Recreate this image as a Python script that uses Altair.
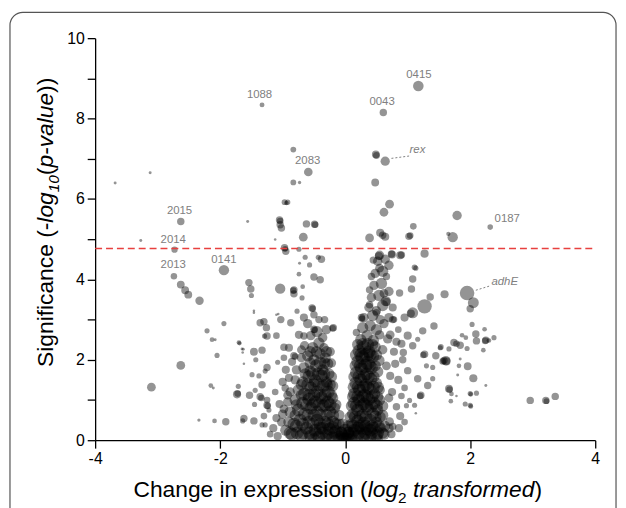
import altair as alt
import pandas as pd

# ---------------- data ----------------
# labelled genes: log2 fold change, -log10 p, abundance (bubble size)
lab_name = ["1088", "0415", "0043", "rex", "2083", "2015", "2014", "2013", "0141", "0187", "adhE"]
lab_fc = [-1.33, 1.17, 0.61, 0.64, -0.59, -2.63, -2.73, -2.74, -1.94, 2.32, 1.95]
lab_p = [8.34, 8.81, 8.15, 6.94, 6.67, 5.44, 4.74, 4.08, 4.23, 5.30, 3.66]
lab_ab = [1.1, 4.6, 2.5, 3.9, 3.4, 2.5, 1.8, 1.9, 4.5, 1.4, 7.2]

# label text anchors (data units)
txt_name = ["1088", "0415", "0043", "2083", "2015", "2014", "2013", "0141", "0187"]
txt_fc = [-1.37, 1.18, 0.59, -0.60, -2.65, -2.75, -2.75, -1.94, 2.39]
txt_p = [8.52, 9.00, 8.34, 6.87, 5.62, 4.91, 4.28, 4.42, 5.43]
txt_align = ["center"] * 8 + ["left"]
ital_name = ["rex", "adhE"]
ital_fc = [1.03, 2.34]
ital_p = [7.14, 3.87]
lead_fc = [0.74, 2.09]
lead_p = [7.01, 3.73]
lead_fc2 = [1.03, 2.32]
lead_p2 = [7.07, 3.84]

threshold = [4.77]

# scattered genes above the threshold
upper = [(-3.68, 6.40, 0.4), (-3.12, 6.65, 0.4), (-3.27, 4.97, 0.4),
         (-0.83, 7.23, 1.5), (-0.83, 6.41, 1.5), (-0.73, 6.41, 0.5),
         (-0.97, 5.92, 1.5), (-0.92, 5.92, 1.3), (-0.94, 5.90, 1.0), (-1.56, 5.44, 0.4),
         (-1.05, 5.48, 2.5), (-1.04, 5.45, 2.0), (-1.04, 5.36, 2.5), (-1.02, 5.28, 2.5),
         (-0.62, 5.38, 2.5), (-0.49, 5.37, 2.5), (-0.48, 5.36, 2.0), (-0.67, 5.05, 3.5),
         (-0.97, 4.79, 2.5), (-0.95, 4.70, 2.5), (-0.96, 4.76, 1.5), (-0.74, 4.75, 1.2),
         (-1.12, 4.99, 0.3), (0.49, 7.11, 2.8), (0.50, 7.08, 2.2), (0.48, 6.41, 2.8),
         (0.71, 5.87, 3.5), (0.62, 5.67, 3.5), (0.39, 5.03, 3.5), (0.56, 5.16, 3.0),
         (0.60, 5.10, 2.5), (0.64, 5.06, 3.0), (1.09, 5.32, 2.0), (1.02, 5.07, 2.5),
         (1.04, 5.09, 2.0), (1.65, 5.13, 0.8), (1.72, 5.05, 4.5), (1.79, 5.59, 4.0)]

# scattered genes, middle band, right side
mid_right = [(1.27, 4.64, 3.0), (0.88, 4.60, 3.0), (0.75, 4.62, 2.8), (0.55, 4.60, 4.0),
             (0.54, 4.58, 3.0), (0.45, 4.48, 2.5), (1.11, 4.30, 1.5), (1.13, 4.28, 1.2),
             (1.08, 4.01, 2.5), (1.06, 3.76, 2.5), (0.87, 3.66, 2.5), (1.59, 3.63, 3.0),
             (1.36, 3.56, 2.5), (2.05, 3.42, 4.8), (2.00, 3.27, 2.5), (1.27, 3.33, 7.0),
             (1.08, 3.17, 4.8), (1.05, 3.15, 3.0), (0.76, 3.00, 2.5), (0.78, 3.00, 2.0),
             (1.42, 2.84, 2.5), (0.18, 2.68, 2.5), (0.26, 3.05, 2.5), (0.27, 3.02, 2.0),
             (0.50, 3.17, 2.5), (0.39, 3.37, 2.5), (0.39, 3.74, 2.5), (0.42, 4.07, 2.5),
             (0.66, 4.07, 2.5), (0.55, 4.28, 3.5), (0.65, 3.46, 4.5), (0.66, 3.44, 3.0),
             (0.74, 4.63, 2.5), (0.90, 4.61, 2.5), (1.24, 2.72, 2.5), (1.16, 2.51, 1.2),
             (1.08, 2.35, 2.5), (1.27, 2.14, 2.5), (1.25, 2.12, 2.0), (0.93, 2.18, 2.5),
             (1.45, 2.10, 2.5), (1.58, 1.98, 2.5), (1.56, 1.96, 2.0), (1.30, 1.85, 1.2),
             (1.40, 1.81, 1.2), (1.00, 1.73, 2.5), (1.16, 1.53, 2.5), (1.40, 1.53, 1.2),
             (1.32, 1.36, 2.5), (1.21, 1.12, 2.5), (1.20, 1.10, 2.0), (1.03, 0.99, 1.2),
             (1.11, 0.87, 1.2), (0.98, 0.86, 1.2), (1.13, 0.67, 0.3), (0.71, 0.46, 3.5),
             (0.76, 0.34, 2.5), (0.82, 0.83, 2.5), (0.75, 1.20, 3.0), (0.85, 1.50, 3.0),
             (0.80, 1.90, 3.0), (0.90, 2.40, 3.0), (0.78, 2.20, 3.0), (0.72, 1.60, 3.0),
             (0.95, 1.30, 2.0), (0.88, 0.60, 3.0), (0.90, 1.10, 2.0), (1.00, 2.60, 3.0),
             (0.85, 2.75, 2.0), (0.72, 2.62, 3.5), (0.82, 2.45, 3.0), (0.70, 1.05, 3.5),
             (0.66, 1.85, 3.5), (0.74, 0.15, 3.0), (0.86, 0.30, 3.0), (0.95, 0.45, 2.0),
             (0.62, 3.65, 3.5), (0.76, 3.30, 3.0), (0.95, 3.05, 3.0), (0.92, 2.00, 2.5)]

# scattered genes far right
far_right = [(2.03, 2.88, 1.2), (2.23, 2.76, 1.0), (2.09, 2.64, 2.5), (2.10, 2.47, 2.5),
             (2.25, 2.49, 2.5), (2.24, 2.47, 2.0), (2.30, 2.48, 1.0), (2.38, 2.55, 1.2),
             (2.21, 2.24, 1.0), (1.87, 2.61, 1.0), (1.93, 2.55, 1.0), (1.74, 2.43, 2.5),
             (1.78, 2.40, 2.0), (1.84, 2.36, 2.5), (1.95, 2.28, 1.2), (1.66, 2.27, 1.2),
             (1.53, 2.32, 1.5), (1.52, 2.30, 1.2), (1.61, 1.98, 4.0), (1.62, 1.96, 3.0),
             (1.84, 2.02, 0.4), (1.82, 1.85, 1.0), (1.80, 1.62, 0.4), (1.96, 1.84, 2.8),
             (2.05, 1.54, 3.0), (2.25, 1.36, 0.4), (1.66, 1.28, 2.8), (1.67, 1.26, 2.0),
             (1.70, 1.15, 1.0), (1.69, 0.97, 1.0), (2.00, 1.16, 1.2), (2.01, 1.14, 1.0),
             (2.10, 1.17, 1.2), (1.92, 0.90, 1.2), (2.00, 0.87, 1.2), (2.01, 0.84, 1.0),
             (1.78, 1.10, 0.3), (2.96, 0.99, 2.5), (3.21, 0.99, 2.5), (3.22, 0.97, 1.5),
             (3.36, 1.09, 2.5)]

# scattered genes, left side
left_side = [(-1.54, 3.92, 2.5), (-1.51, 3.76, 2.5), (-1.50, 3.60, 1.2),
             (-2.63, 3.87, 2.8), (-2.56, 3.73, 2.8), (-2.51, 3.62, 2.8), (-2.33, 3.47, 3.2),
             (-1.04, 3.77, 4.5), (-0.82, 3.74, 2.5), (-0.83, 3.72, 2.0), (-0.82, 3.64, 2.5),
             (-0.74, 4.13, 1.0), (-0.68, 3.82, 1.0), (-0.57, 4.36, 1.2), (-0.64, 4.55, 1.2),
             (-0.73, 4.40, 0.4), (-0.43, 4.55, 1.2), (-0.38, 4.50, 2.5), (-0.50, 4.06, 2.5),
             (-0.40, 3.99, 2.5), (-0.69, 3.54, 1.2), (-0.53, 3.29, 2.5), (-0.52, 3.27, 2.0),
             (-0.50, 3.12, 2.5), (-0.77, 3.21, 1.2), (-1.03, 3.00, 2.5), (-1.10, 3.12, 0.3),
             (-1.07, 3.14, 0.3), (-0.87, 2.92, 2.5), (-0.42, 3.00, 2.5), (-0.33, 3.00, 2.5),
             (-1.46, 3.17, 0.3), (-1.46, 3.22, 0.3), (-1.36, 2.92, 2.5), (-1.30, 2.95, 2.5),
             (-1.94, 2.90, 1.2), (-2.21, 2.72, 1.2), (-2.13, 2.50, 1.0), (-2.08, 2.50, 0.4),
             (-2.05, 2.11, 1.2), (-2.63, 1.86, 3.5), (-3.10, 1.32, 3.5), (-2.15, 1.36, 1.0),
             (-2.11, 1.30, 0.4), (-2.34, 0.50, 0.5), (-2.09, 0.48, 1.0), (-1.91, 0.46, 2.5),
             (-1.73, 1.14, 3.0), (-1.72, 1.16, 2.0), (-1.71, 1.34, 1.2), (-1.70, 2.43, 1.0),
             (-1.69, 2.41, 0.8), (-1.65, 2.27, 0.4), (-1.63, 2.26, 0.4), (-1.64, 2.18, 0.3),
             (-1.62, 1.90, 0.3), (-1.46, 2.20, 2.8), (-1.33, 2.24, 2.5), (-1.43, 2.00, 1.2),
             (-1.25, 1.81, 2.5), (-1.28, 1.72, 1.2), (-1.26, 2.80, 2.5), (-1.25, 2.59, 2.5),
             (-1.29, 2.59, 1.2), (-1.49, 1.63, 1.2), (-1.38, 1.60, 1.2), (-1.53, 1.12, 2.5),
             (-1.44, 1.24, 1.2), (-1.33, 1.38, 2.5), (-1.36, 1.08, 2.5), (-1.34, 1.05, 2.0),
             (-1.25, 0.87, 2.5), (-1.24, 0.85, 2.0), (-1.45, 0.89, 1.2), (-1.62, 0.54, 2.5),
             (-1.64, 0.48, 1.2), (-1.46, 0.48, 2.5), (-1.33, 0.38, 1.2), (-1.28, 0.38, 1.2),
             (-1.22, 0.75, 1.2), (-0.66, 2.59, 2.5), (-0.50, 2.76, 2.5), (-0.49, 2.74, 2.0),
             (-0.19, 2.80, 2.5), (-0.20, 2.78, 2.0), (-0.98, 2.31, 2.5), (-0.82, 2.10, 2.5),
             (-0.80, 2.08, 2.0), (-1.08, 1.94, 1.2), (-1.15, 0.30, 3.0), (-1.10, 0.55, 3.0),
             (-1.05, 0.90, 3.0), (-1.12, 1.20, 2.0), (-1.00, 1.45, 3.0), (-0.95, 1.75, 3.0),
             (-1.20, 0.15, 2.0), (-1.30, 0.60, 2.0), (-1.25, 1.00, 2.0), (-0.98, 2.05, 2.0),
             (-0.90, 2.30, 3.0), (-1.10, 2.60, 2.0), (-0.92, 1.12, 3.5), (-0.98, 0.78, 3.5),
             (-1.02, 0.45, 3.5), (-0.90, 1.55, 3.0), (-0.85, 1.95, 3.0), (-0.74, 2.62, 3.0),
             (-0.70, 2.25, 3.5), (-1.08, 0.10, 3.0), (-0.96, 1.30, 2.5), (-0.66, 3.05, 3.0)]

# dense core, left arm
core_left = [(-0.95, 0.25, 5), (-0.85, 0.15, 6), (-0.78, 0.35, 6), (-0.70, 0.12, 6), (-0.62, 0.30, 6),
             (-0.55, 0.10, 6), (-0.48, 0.25, 6), (-0.42, 0.08, 6), (-0.36, 0.30, 6), (-0.30, 0.12, 6),
             (-0.25, 0.28, 6), (-0.20, 0.06, 6), (-0.15, 0.22, 6), (-0.10, 0.08, 6), (-0.06, 0.20, 5),
             (-0.02, 0.05, 5), (-0.90, 0.45, 5), (-0.72, 0.50, 6), (-0.58, 0.45, 6), (-0.45, 0.50, 6),
             (-0.33, 0.45, 6), (-0.20, 0.45, 6), (-0.10, 0.40, 5), (-1.00, 0.65, 4), (-0.88, 0.70, 5),
             (-0.75, 0.75, 6), (-0.65, 0.65, 6), (-0.55, 0.80, 6), (-0.45, 0.70, 6), (-0.35, 0.85, 6),
             (-0.25, 0.70, 6), (-0.17, 0.80, 5), (-0.10, 0.62, 5), (-0.92, 0.95, 4), (-0.80, 1.00, 5),
             (-0.68, 0.92, 6), (-0.58, 1.02, 6), (-0.48, 0.95, 6), (-0.38, 1.05, 6), (-0.28, 0.95, 6),
             (-0.20, 1.05, 5), (-0.88, 1.20, 4), (-0.75, 1.25, 5), (-0.65, 1.15, 6), (-0.55, 1.30, 6),
             (-0.45, 1.20, 6), (-0.35, 1.35, 6), (-0.27, 1.20, 6), (-0.20, 1.35, 5), (-0.80, 1.50, 4),
             (-0.68, 1.45, 5), (-0.58, 1.58, 6), (-0.48, 1.48, 6), (-0.38, 1.60, 6), (-0.30, 1.45, 5),
             (-0.22, 1.58, 5), (-0.78, 1.75, 4), (-0.66, 1.80, 5), (-0.56, 1.72, 5), (-0.46, 1.85, 6),
             (-0.36, 1.75, 5), (-0.28, 1.90, 5), (-0.70, 2.05, 4), (-0.60, 2.10, 5), (-0.50, 2.00, 5),
             (-0.40, 2.15, 5), (-0.32, 2.05, 5), (-0.24, 2.20, 4), (-0.65, 2.35, 4), (-0.52, 2.30, 5),
             (-0.42, 2.42, 5), (-0.34, 2.30, 4), (-0.55, 2.60, 4), (-0.45, 2.70, 5), (-0.36, 2.55, 4),
             (-0.30, 2.75, 4), (-0.60, 2.90, 4)]

core_left_b = [(-0.88, 0.18, 6), (-0.77, 0.18, 6), (-0.67, 0.18, 6), (-0.57, 0.18, 6), (-0.47, 0.18, 6),
               (-0.37, 0.18, 6), (-0.27, 0.18, 6), (-0.17, 0.18, 6), (-0.07, 0.18, 6),
               (-0.82, 0.40, 6), (-0.68, 0.40, 6), (-0.52, 0.40, 6), (-0.40, 0.40, 6), (-0.28, 0.40, 6),
               (-0.16, 0.40, 6), (-0.04, 0.40, 5), (-0.80, 0.62, 5), (-0.60, 0.62, 6), (-0.50, 0.62, 6),
               (-0.40, 0.62, 6), (-0.30, 0.62, 6), (-0.20, 0.62, 6), (-0.78, 0.88, 5), (-0.62, 0.88, 6),
               (-0.52, 0.88, 6), (-0.42, 0.88, 6), (-0.32, 0.88, 6), (-0.24, 0.88, 6), (-0.15, 0.88, 5),
               (-0.70, 1.12, 5), (-0.58, 1.12, 6), (-0.50, 1.12, 6), (-0.40, 1.12, 6), (-0.32, 1.12, 6),
               (-0.22, 1.12, 5), (-0.70, 1.38, 5), (-0.60, 1.38, 6), (-0.50, 1.38, 6), (-0.42, 1.38, 6),
               (-0.30, 1.38, 6), (-0.24, 1.38, 5), (-0.64, 1.65, 5), (-0.52, 1.65, 6), (-0.43, 1.65, 6),
               (-0.34, 1.65, 6), (-0.26, 1.65, 5), (-0.56, 1.92, 5), (-0.40, 1.92, 6), (-0.33, 1.92, 5),
               (-0.22, 1.92, 4), (-0.56, 2.20, 5), (-0.46, 2.20, 5), (-0.30, 2.20, 5)]

# dense core, right arm
core_right = [(0.02, 0.06, 5), (0.06, 0.20, 5), (0.10, 0.08, 6), (0.15, 0.25, 6), (0.20, 0.10, 6),
              (0.25, 0.30, 6), (0.30, 0.12, 6), (0.35, 0.28, 6), (0.40, 0.08, 6), (0.45, 0.30, 6),
              (0.50, 0.12, 6), (0.56, 0.30, 5), (0.62, 0.15, 5), (0.70, 0.30, 4), (0.10, 0.40, 5),
              (0.20, 0.48, 6), (0.30, 0.42, 6), (0.40, 0.50, 6), (0.50, 0.45, 5), (0.12, 0.65, 5),
              (0.20, 0.75, 6), (0.28, 0.62, 6), (0.36, 0.78, 6), (0.44, 0.65, 6), (0.52, 0.75, 5),
              (0.60, 0.62, 5), (0.14, 0.92, 6), (0.22, 1.00, 6), (0.30, 0.90, 6), (0.38, 1.02, 6),
              (0.46, 0.92, 6), (0.55, 1.00, 5), (0.15, 1.15, 6), (0.23, 1.25, 6), (0.31, 1.12, 6),
              (0.39, 1.28, 6), (0.47, 1.15, 5), (0.56, 1.25, 4), (0.17, 1.42, 6), (0.25, 1.50, 6),
              (0.33, 1.38, 6), (0.41, 1.52, 6), (0.50, 1.42, 5), (0.18, 1.68, 6), (0.26, 1.78, 6),
              (0.34, 1.65, 6), (0.42, 1.80, 6), (0.52, 1.70, 5), (0.20, 1.95, 6), (0.28, 2.05, 7),
              (0.36, 1.92, 7), (0.44, 2.08, 6), (0.54, 1.98, 5), (0.22, 2.22, 6), (0.30, 2.30, 7),
              (0.38, 2.20, 6), (0.48, 2.32, 5), (0.60, 2.25, 4), (0.25, 2.50, 5), (0.35, 2.60, 5),
              (0.45, 2.48, 5), (0.55, 2.62, 4), (0.68, 2.52, 4), (0.28, 2.80, 5), (0.40, 2.85, 5),
              (0.50, 2.75, 5), (0.62, 2.90, 4), (0.30, 3.05, 4), (0.44, 3.10, 5), (0.56, 3.00, 4),
              (0.70, 3.05, 4), (0.38, 3.30, 4), (0.50, 3.22, 4), (0.60, 3.35, 5), (0.42, 3.55, 4),
              (0.54, 3.60, 5), (0.70, 3.70, 4), (0.46, 3.85, 4), (0.58, 3.90, 5), (0.48, 4.15, 4),
              (0.60, 4.20, 5), (0.70, 4.35, 4), (0.52, 4.45, 4), (0.64, 4.50, 4)]

core_right_b = [(0.04, 0.18, 6), (0.12, 0.18, 6), (0.22, 0.18, 6), (0.32, 0.18, 6), (0.42, 0.18, 6),
                (0.52, 0.18, 6), (0.60, 0.18, 5), (0.05, 0.35, 5), (0.13, 0.35, 6), (0.23, 0.35, 6),
                (0.33, 0.35, 6), (0.43, 0.35, 6), (0.53, 0.35, 6), (0.63, 0.35, 5), (0.08, 0.58, 5),
                (0.16, 0.58, 6), (0.24, 0.58, 6), (0.33, 0.58, 6), (0.48, 0.58, 6), (0.56, 0.58, 5),
                (0.10, 0.85, 5), (0.18, 0.85, 6), (0.26, 0.85, 6), (0.34, 0.85, 6), (0.42, 0.85, 6),
                (0.50, 0.85, 6), (0.60, 0.85, 5), (0.12, 1.08, 5), (0.20, 1.08, 6), (0.28, 1.08, 6),
                (0.35, 1.08, 6), (0.43, 1.08, 6), (0.52, 1.08, 5), (0.13, 1.32, 5), (0.21, 1.32, 6),
                (0.29, 1.32, 6), (0.36, 1.32, 6), (0.45, 1.32, 6), (0.53, 1.32, 5), (0.14, 1.58, 5),
                (0.22, 1.58, 6), (0.30, 1.58, 6), (0.37, 1.58, 6), (0.46, 1.58, 5), (0.16, 1.85, 5),
                (0.24, 1.85, 6), (0.32, 1.85, 7), (0.39, 1.85, 6), (0.48, 1.85, 5), (0.18, 2.12, 6),
                (0.26, 2.12, 7), (0.34, 2.12, 7), (0.40, 2.12, 6), (0.50, 2.12, 5), (0.20, 2.38, 5),
                (0.28, 2.38, 6), (0.36, 2.38, 6), (0.44, 2.38, 5)]

core_base = [(-0.50, 0.02, 6), (-0.30, 0.02, 6), (-0.10, 0.02, 6), (0.00, 0.02, 6), (0.10, 0.02, 6),
             (0.30, 0.02, 6), (0.50, 0.02, 6), (-0.40, 0.30, 6), (-0.20, 0.32, 6), (0.00, 0.25, 6),
             (0.20, 0.30, 6), (0.40, 0.25, 6), (-0.05, 0.12, 6), (0.05, 0.12, 6)]

# ---------------- tables ----------------
rows = []
for grp in (upper, mid_right, far_right, left_side, core_left, core_left_b, core_right,
            core_right_b, core_base):
    rows += [{"fc": a, "p": b, "ab": c} for a, b, c in grp]
rows += [{"fc": a, "p": b, "ab": c} for a, b, c in zip(lab_fc, lab_p, lab_ab)]
pts = pd.DataFrame(rows)

txt = pd.DataFrame({"name": txt_name, "fc": txt_fc, "p": txt_p, "al": txt_align})
itx = pd.DataFrame({"name": ital_name, "fc": ital_fc, "p": ital_p})
lead = pd.DataFrame({"fc": lead_fc, "p": lead_p, "fc2": lead_fc2, "p2": lead_p2})
thr = pd.DataFrame({"p": threshold, "a": [-4], "b": [4]})

FONT = "Liberation Sans"
W, H = 505, 406
xs = alt.Scale(domain=[-4, 4], nice=False, zero=False)
ys = alt.Scale(domain=[0, 10], nice=False, zero=False)
LBL = "(datum.value < 0 ? '-' : '') + abs(datum.value)"

points = alt.Chart(pts).mark_circle(color="black", opacity=0.42, clip=True).encode(
    x=alt.X("fc:Q", scale=xs, axis=alt.Axis(values=[-4, -2, 0, 2, 4], title=None, tickSize=8,
                                            labelPadding=3, labelFontSize=16, labelFont=FONT,
                                            labelExpr=LBL,
                                            domainColor="black", tickColor="black", labelColor="black",
                                            domainWidth=1.3, tickWidth=1.3, grid=False, labelFlush=False)),
    y=alt.Y("p:Q", scale=ys, axis=alt.Axis(values=list(range(0, 11)), title=None, tickSize=8,
                                           labelPadding=3, labelFontSize=16, labelFont=FONT,
                                           labelExpr="datum.value % 2 == 0 ? datum.label : ''",
                                           domainColor="black", tickColor="black", labelColor="black",
                                           domainWidth=1.3, tickWidth=1.3, grid=False, labelFlush=False)),
    size=alt.Size("ab:Q", scale=alt.Scale(domain=[0, 4, 10], range=[0, 90, 330]), legend=None),
)

thr_line = alt.Chart(thr).mark_rule(color="#e8403f", strokeDash=[7, 4], strokeWidth=1.6).encode(
    x=alt.X("a:Q", scale=xs), x2="b:Q", y=alt.Y("p:Q", scale=ys))

labels_c = alt.Chart(txt[txt.al == "center"]).mark_text(
    font=FONT, fontSize=11.5, color="#808080", align="center", baseline="alphabetic").encode(
    x=alt.X("fc:Q", scale=xs), y=alt.Y("p:Q", scale=ys), text="name:N")
labels_l = alt.Chart(txt[txt.al == "left"]).mark_text(
    font=FONT, fontSize=11.5, color="#808080", align="left", baseline="alphabetic").encode(
    x=alt.X("fc:Q", scale=xs), y=alt.Y("p:Q", scale=ys), text="name:N")
labels_i = alt.Chart(itx).mark_text(
    font=FONT, fontSize=11.5, color="#808080", align="left", baseline="alphabetic",
    fontStyle="italic").encode(
    x=alt.X("fc:Q", scale=xs), y=alt.Y("p:Q", scale=ys), text="name:N")
leaders = alt.Chart(lead).mark_rule(color="#808080", strokeDash=[2, 2], strokeWidth=1).encode(
    x=alt.X("fc:Q", scale=xs), y=alt.Y("p:Q", scale=ys), x2="fc2:Q", y2="p2:Q")

# ---------------- axis titles built from styled pieces ----------------
AW = {' ': 278, '(': 333, ')': 333, '-': 333, 'C': 722, 'S': 667, 'a': 556, 'c': 500, 'd': 556,
      'e': 556, 'f': 278, 'g': 556, 'h': 556, 'i': 222, 'l': 222, 'm': 833, 'n': 556, 'o': 556,
      'p': 556, 'r': 333, 's': 500, 't': 278, 'u': 556, 'v': 500, 'x': 500, '0': 556, '1': 556, '2': 556}
TF, SF = 23, 15.5


def tw(s, fs):
    return sum(AW[c] for c in s) * fs / 1000.0


def layout(pieces):
    out, cum = [], 0.0
    for s, st in pieces:
        fs = SF if st == "sub" else TF
        lead_sp = len(s) - len(s.lstrip(" "))
        out.append((s.strip(), st, cum + lead_sp * AW[' '] * fs / 1000.0))
        cum += tw(s, fs)
    return out, cum


xt_pieces = [("Change in expression (", "n"), ("log", "i"), ("2", "sub"),
             (" transformed", "i"), (")", "n")]
yt_pieces = [("Significance (-", "n"), ("log", "i"), ("10", "sub"), ("(", "n"),
             ("p-value", "i"), ("))", "n")]

title_layers = []
xl, xw = layout(xt_pieces)
x0, xb = 245 - xw / 2, 463
for s, st, off in xl:
    fs = SF if st == "sub" else TF
    title_layers.append(
        alt.Chart(pd.DataFrame({"t": [s]})).mark_text(
            font=FONT, fontSize=fs, align="left", baseline="alphabetic", color="black",
            fontStyle="italic" if st == "i" else "normal").encode(
            text="t:N", x=alt.value(x0 + off), y=alt.value(xb + (6 if st == "sub" else 0))))

yl, yw = layout(yt_pieces)
y0, yb = 186 + yw / 2, -43
for s, st, off in yl:
    fs = SF if st == "sub" else TF
    title_layers.append(
        alt.Chart(pd.DataFrame({"t": [s]})).mark_text(
            font=FONT, fontSize=fs, align="left", baseline="alphabetic", color="black", angle=270,
            fontStyle="italic" if st in ("i", "sub") else "normal").encode(
            text="t:N", x=alt.value(yb + (6 if st == "sub" else 0)), y=alt.value(y0 - off)))

frame = alt.Chart(pd.DataFrame({"k": [0]})).mark_rect(
    fillOpacity=0, stroke="#555555", strokeWidth=1.2, cornerRadius=13).encode(
    x=alt.value(-86), x2=alt.value(526), y=alt.value(-26), y2=alt.value(490))

chart = alt.layer(frame, points, thr_line, leaders, labels_c, labels_l, labels_i, *title_layers).properties(
    width=W, height=H,
    padding={"left": 88, "top": 28, "right": 23, "bottom": 66},
    autosize=alt.AutoSizeParams(type="none"),
    background="white",
).configure_view(stroke=None)

chart.save("out.html", embed_options={"renderer": "svg", "actions": False})
